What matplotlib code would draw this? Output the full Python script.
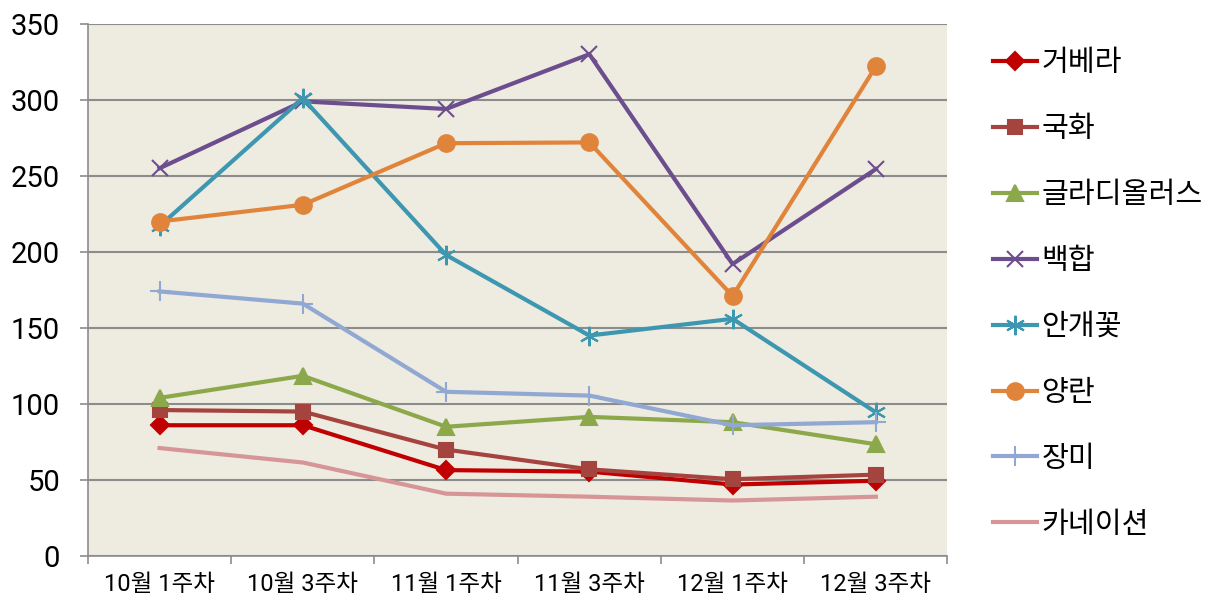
import matplotlib
matplotlib.use("Agg")
import matplotlib.pyplot as plt

plt.rcParams['font.family'] = ['Roboto', 'Noto Sans CJK KR', 'DejaVu Sans']

weeks = ["10월 1주차", "10월 3주차", "11월 1주차", "11월 3주차", "12월 1주차", "12월 3주차"]

gerbera = [86, 86, 56.5, 55.5, 47, 49.5]
chrysanthemum = [96, 95, 70, 57, 50.5, 53.5]
gladiolus = [104, 118.5, 85, 91.5, 88, 73.5]
lily = [255, 299, 294, 330, 192, 254.5]
gypsophila = [217, 301, 198, 145, 156, 94.5]
orchid = [220, 231, 271.5, 272, 171, 322]
rose = [174, 166, 108, 105.5, 86, 88]
carnation = [71, 61.5, 41, 39, 36.5, 39]

series = [
    ("거베라", gerbera, "#C00000", "D", 9),
    ("국화", chrysanthemum, "#A5443F", "s", 10),
    ("글라디올러스", gladiolus, "#8BA84A", "^", 11),
    ("백합", lily, "#6C4E8E", "x", 12),
    ("안개꽃", gypsophila, "#3E97B0", (6, 2, 0), 14),
    ("양란", orchid, "#E0843C", "o", 12),
    ("장미", rose, "#90A8D2", "+", 14),
    ("카네이션", carnation, "#D69597", "", 0),
]

fig = plt.figure(figsize=(12.21, 6.02), dpi=100)
ax = fig.add_axes([0.072, 0.0764, 0.704, 0.884])
ax.set_facecolor("#EEEBE0")

x = list(range(len(weeks)))
for name, vals, color, marker, ms in series:
    ax.plot(x, vals, color=color, lw=3, marker=marker if marker else None,
            markersize=ms, markeredgewidth=1.5, markeredgecolor=color,
            markerfacecolor=color, label=name)

ax.set_xlim(-0.5, len(weeks) - 0.5)
ax.set_ylim(0, 350)
ax.set_yticks(range(0, 351, 50))
ax.yaxis.grid(True, color="#8C8C8C", lw=1.5)
ax.set_axisbelow(True)

ax.set_xticks(x)
ax.set_xticklabels(weeks, fontsize=17)
ax.set_xticks([i - 0.5 for i in range(len(weeks) + 1)], minor=True)
ax.tick_params(axis="x", which="major", length=0, pad=12)
ax.tick_params(axis="x", which="minor", length=6, color="#8C8C8C", width=1.2)
ax.tick_params(axis="y", labelsize=21, length=6, color="#8C8C8C", width=1.2, pad=14)

for side in ["top", "right"]:
    ax.spines[side].set_visible(False)
for side in ["left", "bottom"]:
    ax.spines[side].set_color("#8C8C8C")
    ax.spines[side].set_linewidth(1.2)

fig.legend(loc="upper left", bbox_to_anchor=(0.792, 0.962), frameon=False,
           fontsize=21, handlelength=1.5, handletextpad=0.15, labelspacing=1.3)

fig.savefig("out.png", dpi=100)
